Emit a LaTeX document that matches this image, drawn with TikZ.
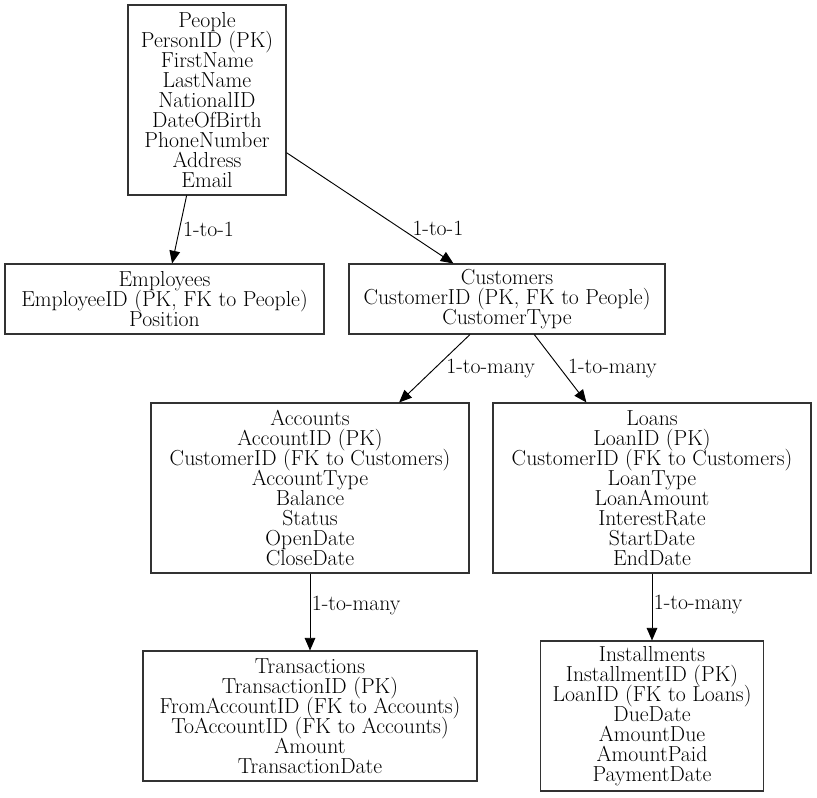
\documentclass[tikz,border=0pt]{standalone}
\usepackage{tikz}
\usetikzlibrary{arrows.meta}
\definecolor{ERLine}{RGB}{50,50,50}
\newcommand{\erfont}{\fontsize{16.3}{15}\selectfont\lineskiplimit=-20pt\relax}

\begin{document}
\begin{tikzpicture}[
  x=0.75pt,y=-0.75pt,
  table/.style={draw=ERLine,line width=0.8pt,align=center,inner sep=0pt,
                font=\erfont},
  rel/.style={-{Triangle[length=9.5pt,width=8pt]},line width=0.7pt},
  card/.style={anchor=west,inner sep=1pt,font=\erfont}
]
\useasboundingbox (0,0) rectangle (817,797);
\node[table,minimum width=118.5pt,minimum height=142.5pt] (people) at (207,100)
  {People\\PersonID (PK)\\FirstName\\LastName\\NationalID\\DateOfBirth\\PhoneNumber\\Address\\Email};
\node[table,minimum width=239.25pt,minimum height=52.5pt] (emp) at (164.5,299)
  {Employees\\EmployeeID (PK, FK to People)\\Position};
\node[table,minimum width=237pt,minimum height=52.5pt] (cust) at (507,299)
  {Customers\\CustomerID (PK, FK to People)\\CustomerType};
\node[table,minimum width=238.5pt,minimum height=127.5pt] (acc) at (310,488)
  {Accounts\\AccountID (PK)\\CustomerID (FK to Customers)\\AccountType\\Balance\\Status\\OpenDate\\CloseDate};
\node[table,minimum width=238.5pt,minimum height=127.5pt] (loan) at (652,488)
  {Loans\\LoanID (PK)\\CustomerID (FK to Customers)\\LoanType\\LoanAmount\\InterestRate\\StartDate\\EndDate};
\node[table,minimum width=250.5pt,minimum height=97.5pt] (trans) at (310,716)
  {Transactions\\TransactionID (PK)\\FromAccountID (FK to Accounts)\\ToAccountID (FK to Accounts)\\Amount\\TransactionDate};
\node[table,minimum width=167.25pt,minimum height=112.5pt] (inst) at (652,716)
  {Installments\\InstallmentID (PK)\\LoanID (FK to Loans)\\DueDate\\AmountDue\\AmountPaid\\PaymentDate};

\draw[rel] (people) -- node[card,xshift=1.5pt] (l1) {1-to-1} (emp);
\draw[rel] (people) -- node[card,pos=0.68,xshift=8pt] (l2) {1-to-1} (cust);
\draw[rel] (cust) -- node[card,xshift=7.5pt] (l3) {1-to-many} (acc);
\draw[rel] (cust) -- node[card,xshift=4.5pt] (l4) {1-to-many} (loan);
\draw[rel] (acc) -- node[card,pos=0.41] (l5) {1-to-many} (trans);
\draw[rel] (loan) -- node[card,pos=0.47] (l6) {1-to-many} (inst);
\end{tikzpicture}
\end{document}
